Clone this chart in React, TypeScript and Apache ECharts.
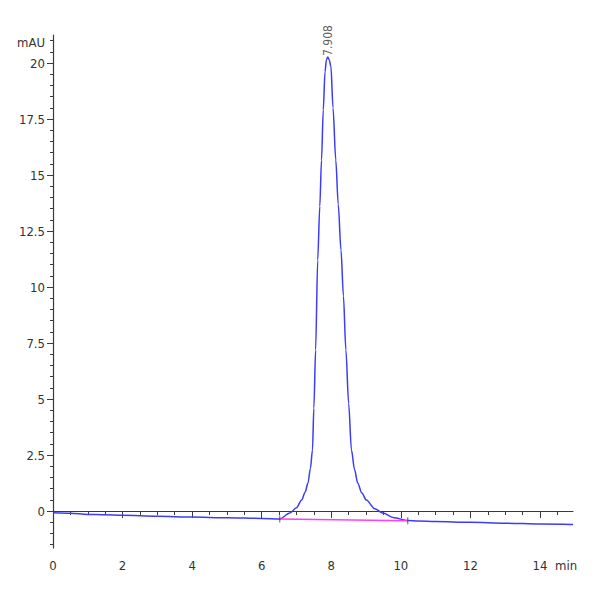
import React, { useEffect, useRef } from "react";
import * as echarts from "echarts";

// Retention time (min) and absorbance (mAU)
const timeMin: number[] = [
  0, 0.5, 1, 1.5, 2, 3, 4, 5, 6, 6.52, 6.81, 7.0, 7.15, 7.25, 7.33, 7.4, 7.46, 7.5, 7.55, 7.61,
  7.67, 7.72, 7.77, 7.82, 7.86, 7.9, 7.94, 7.99, 8.05, 8.13, 8.2, 8.28, 8.35, 8.42, 8.5, 8.58, 8.67,
  8.76, 8.88, 9.01, 9.25, 9.48, 9.8, 10.2, 10.5, 11, 12, 13, 14, 14.95,
];
const signalMAU: number[] = [
  -0.08, -0.1, -0.15, -0.17, -0.19, -0.23, -0.27, -0.3, -0.33, -0.35, -0.09, 0.15, 0.49, 0.85, 1.25, 1.9, 2.72, 4.6, 7.19, 11.2,
  13.6, 15.67, 17.9, 19.6, 20.15, 20.27, 20.15, 19.85, 18.0, 15.67, 13.7, 11.65, 9.6, 7.19, 4.8, 2.72, 1.85,
  1.25, 0.8, 0.49, 0.1, -0.09, -0.3, -0.42, -0.44, -0.47, -0.5, -0.54, -0.58, -0.6,
];

// Integration baseline (start / end)
const baselineTime: number[] = [6.52, 10.2];
const baselineMAU: number[] = [-0.35, -0.43];

// Peak annotation
const peakTime = 7.908;
const peakHeight = 20.27;
const peakLabel = "7.908";

// Axis ticks
const xMajorTicks: number[] = [0, 2, 4, 6, 8, 10, 12, 14];
const xMinorTicks: number[] = [
  0, 0.5, 1, 1.5, 2, 2.5, 3, 3.5, 4, 4.5, 5, 5.5, 6, 6.5, 7, 7.5, 8, 8.5, 9, 9.5, 10, 10.5, 11,
  11.5, 12, 12.5, 13, 13.5, 14, 14.5,
];
const yMajorTicks: number[] = [0, 2.5, 5, 7.5, 10, 12.5, 15, 17.5, 20];
const yMinorTicks: number[] = [
  -1.5, -1, -0.5, 0, 0.5, 1, 1.5, 2, 2.5, 3, 3.5, 4, 4.5, 5, 5.5, 6, 6.5, 7, 7.5, 8, 8.5, 9, 9.5,
  10, 10.5, 11, 11.5, 12, 12.5, 13, 13.5, 14, 14.5, 15, 15.5, 16, 16.5, 17, 17.5, 18, 18.5, 19,
  19.5, 20, 20.5, 21,
];
const xUnitLabel = "min";
const xUnitPos = 14.75;
const yUnitLabel = "mAU";
const yUnitPos = 20.9;

const X_MIN = 0;
const X_MAX = 14.95;
const Y_MIN = -1.65;
const Y_MAX = 21.25;

const FONT = '"Liberation Sans Narrow", "Arial Narrow", "DejaVu Sans Condensed", sans-serif';
const AXIS_COLOR = "#3a3a3a";

export default function App() {
  const ref = useRef<HTMLDivElement>(null);

  useEffect(() => {
    if (!ref.current) return;
    const chart = echarts.init(ref.current, undefined, { renderer: "svg" });

    const signal = timeMin.map((t, i) => [t, signalMAU[i]]);
    const baseline = baselineTime.map((t, i) => [t, baselineMAU[i]]);

    const labelStyle = { fontFamily: FONT, fontSize: 13, color: "#333" };

    chart.setOption({
      animation: false,
      backgroundColor: "#ffffff",
      grid: { left: 53, right: 27, top: 35, bottom: 52, containLabel: false },
      xAxis: [
        {
          type: "value",
          min: X_MIN,
          max: X_MAX,
          position: "bottom",
          axisLine: { show: true, lineStyle: { color: AXIS_COLOR, width: 1.2 } },
          axisTick: { show: true, customValues: xMinorTicks, length: 4, lineStyle: { color: AXIS_COLOR } },
          axisLabel: { show: false },
          splitLine: { show: false },
        },
        {
          type: "value",
          min: X_MIN,
          max: X_MAX,
          position: "bottom",
          axisLine: { show: false },
          axisTick: { show: true, customValues: xMajorTicks, length: 7, lineStyle: { color: AXIS_COLOR } },
          axisLabel: {
            show: true,
            customValues: [...xMajorTicks, xUnitPos],
            margin: 11,
            ...labelStyle,
            formatter: (v: number) => (Math.abs(v - xUnitPos) < 1e-6 ? xUnitLabel : String(v)),
          },
          splitLine: { show: false },
        },
      ],
      yAxis: [
        {
          type: "value",
          min: Y_MIN,
          max: Y_MAX,
          position: "left",
          axisLine: { show: true, lineStyle: { color: AXIS_COLOR, width: 1.2 } },
          axisTick: { show: true, customValues: yMinorTicks, length: 3, lineStyle: { color: AXIS_COLOR } },
          axisLabel: { show: false },
          splitLine: { show: false },
        },
        {
          type: "value",
          min: Y_MIN,
          max: Y_MAX,
          position: "left",
          axisLine: { show: false },
          axisTick: { show: true, customValues: yMajorTicks, length: 6, lineStyle: { color: AXIS_COLOR } },
          axisLabel: {
            show: true,
            customValues: [...yMajorTicks, yUnitPos],
            margin: 8,
            ...labelStyle,
            formatter: (v: number) => (Math.abs(v - yUnitPos) < 1e-6 ? yUnitLabel : String(v)),
          },
          splitLine: { show: false },
        },
      ],
      series: [
        {
          type: "line",
          xAxisIndex: 0,
          yAxisIndex: 0,
          data: signal,
          smooth: 0.3,
          smoothMonotone: "x",
          symbol: "none",
          lineStyle: { color: "#3c3cf5", width: 1.5 },
          z: 2,
        },
        {
          type: "line",
          xAxisIndex: 0,
          yAxisIndex: 0,
          data: baseline,
          symbol: "none",
          lineStyle: { color: "#ff3cff", width: 1.5 },
          z: 3,
        },
        {
          type: "scatter",
          xAxisIndex: 0,
          yAxisIndex: 0,
          data: baseline,
          symbol: "rect",
          symbolSize: [1, 7],
          itemStyle: { color: "#333" },
          z: 4,
        },
        {
          type: "scatter",
          xAxisIndex: 0,
          yAxisIndex: 0,
          data: [[peakTime, peakHeight]],
          symbolSize: 0,
          label: {
            show: true,
            position: "top",
            distance: 1,
            rotate: 90,
            align: "left",
            verticalAlign: "middle",
            formatter: peakLabel,
            fontFamily: FONT,
            fontSize: 12,
            color: "#333",
          },
          z: 5,
        },
      ],
    });

    return () => chart.dispose();
  }, []);

  return (
    <div
      ref={ref}
      style={{ position: "fixed", left: 0, top: 0, width: 600, height: 600, background: "#fff" }}
    />
  );
}
